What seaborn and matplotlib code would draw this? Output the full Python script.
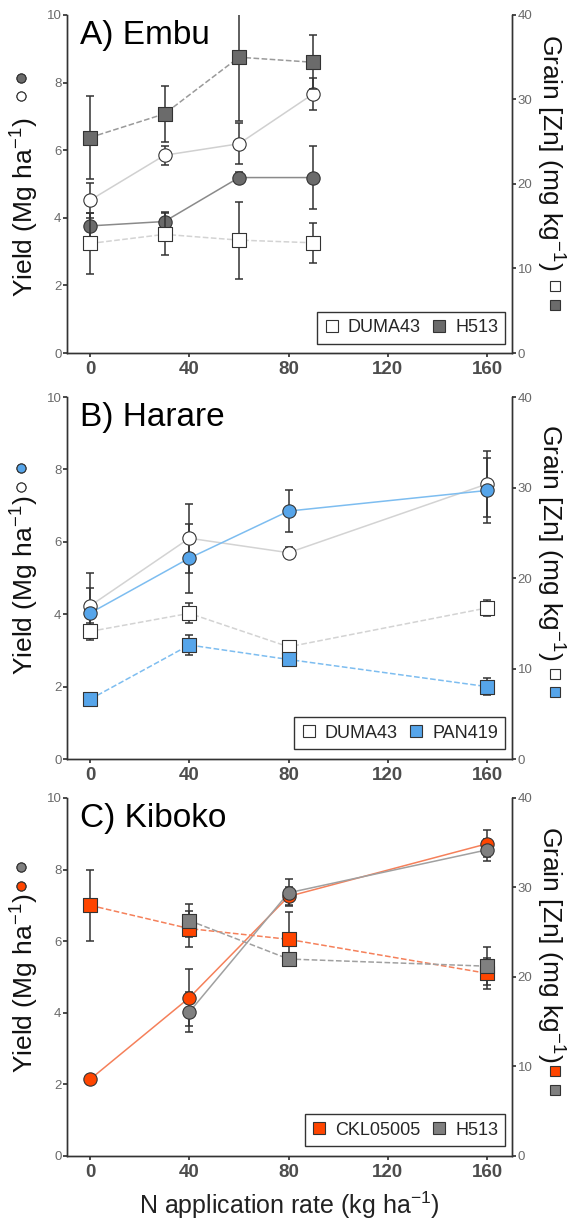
import numpy as np
import pandas as pd
import matplotlib
matplotlib.use("Agg")
from matplotlib import pyplot as plt
from matplotlib.lines import Line2D
import seaborn as sns

# Embu (Kenya)
embu_n = [0, 30, 60, 90]
embu_duma_yield = [4.52, 5.85, 6.19, 7.67]
embu_duma_yield_err = [0.52, 0.28, 0.6, 0.47]
embu_h513_yield = [3.76, 3.89, 5.19, 5.19]
embu_h513_yield_err = [0.38, 0.29, 0.15, 0.92]
embu_duma_zn = [12.96, 14.04, 13.36, 13.04]
embu_duma_zn_err = [3.64, 2.48, 4.56, 2.4]
embu_h513_zn = [25.5, 28.3, 35.0, 34.4]
embu_h513_zn_err = [4.9, 3.3, 7.6, 3.2]

# Harare (Zimbabwe)
harare_n = [0, 40, 80, 160]
harare_duma_yield = [4.23, 6.1, 5.7, 7.6]
harare_duma_yield_err = [0.9, 0.95, 0.16, 0.92]
harare_pan_yield = [4.03, 5.55, 6.85, 7.42]
harare_pan_yield_err = [0.7, 0.95, 0.58, 0.9]
harare_duma_zn = [14.1, 16.1, 12.4, 16.7]
harare_duma_zn_err = [0.9, 1.1, 0.4, 0.9]
harare_pan_zn = [6.6, 12.6, 11.0, 8.0]
harare_pan_zn_err = [0.6, 1.1, 0.2, 0.9]

# Kiboko (Kenya)
kiboko_n = [0, 40, 80, 160]
kiboko_h513_n = [40, 80, 160]
kiboko_ckl_yield = [2.14, 4.42, 7.25, 8.72]
kiboko_ckl_yield_err = [0.12, 0.8, 0.25, 0.37]
kiboko_h513_yield = [4.02, 7.35, 8.55]
kiboko_h513_yield_err = [0.57, 0.38, 0.3]
kiboko_ckl_zn = [28.0, 25.4, 24.2, 20.4]
kiboko_ckl_zn_err = [4.0, 2.0, 3.0, 1.7]
kiboko_h513_zn = [26.3, 22.0, 21.2]
kiboko_h513_zn_err = [1.8, 0.5, 2.1]

x_ticks = [0, 40, 80, 120, 160]

sns.set_theme(style="white")
plt.rcParams['font.family'] = ['Liberation Sans', 'DejaVu Sans']
plt.rcParams['mathtext.fontset'] = 'custom'
plt.rcParams['mathtext.rm'] = 'Liberation Sans'
plt.rcParams['mathtext.it'] = 'Liberation Sans:italic'
plt.rcParams['mathtext.bf'] = 'Liberation Sans:bold'

EDGE = '#333333'
TICKCOL = '#6a6a6a'


def drawSeries(ax, n, values, errors, fill, lineColor, marker, dashed):
    df = pd.DataFrame({'n': n, 'v': values})
    sns.lineplot(data=df, x='n', y='v', ax=ax, color=lineColor,
                 linestyle='--' if dashed else '-', linewidth=1.1, zorder=2)
    ax.errorbar(n, values, yerr=errors, fmt='none', ecolor=EDGE,
                elinewidth=1.1, capsize=3, capthick=1.1, zorder=3)
    sns.scatterplot(data=df, x='n', y='v', ax=ax, marker=marker, s=92,
                    color=fill, edgecolor=EDGE, linewidth=0.8, zorder=4)


def keyLegend(ax, fills, marker, anchor):
    handles = [Line2D([], [], marker=marker, linestyle='', markerfacecolor=f,
                      markeredgecolor=EDGE, markeredgewidth=0.8, markersize=6.5)
               for f in fills]
    leg = ax.legend(handles, ['', ''], loc='center', bbox_to_anchor=anchor,
                    frameon=False, fontsize=8, handlelength=0.8,
                    handletextpad=0, labelspacing=0.75, borderpad=0)
    ax.add_artist(leg)


def setupPanel(ax, ax2, title, showXLabel, yLabelPos, zLabelPos):
    ax.set_xlim(-9.3, 170)
    ax.set_ylim(0, 10)
    ax2.set_ylim(0, 40)
    ax.set_xticks(x_ticks)
    ax.set_yticks([0, 2, 4, 6, 8, 10])
    ax2.set_yticks([0, 10, 20, 30, 40])
    ax.set_xticklabels([str(t) for t in x_ticks], fontsize=13.5, fontweight='bold', color='#4d4d4d')
    ax.tick_params(axis='y', labelsize=9.5, labelcolor=TICKCOL, length=3, color=EDGE, left=True, pad=1)
    ax.tick_params(axis='x', length=3, color=EDGE, bottom=True, pad=3)
    ax2.tick_params(axis='y', labelsize=9.5, labelcolor=TICKCOL, length=3, color=EDGE, right=True, pad=1)
    for a in (ax, ax2):
        for side in ['left', 'bottom', 'right']:
            a.spines[side].set_color(EDGE)
            a.spines[side].set_linewidth(1.0)
        a.spines['top'].set_visible(False)
    ax.set_ylabel('Yield (Mg ha$^{-1}$)', fontsize=19, color='#111111')
    ax.yaxis.label.set_va('center')
    ax.yaxis.set_label_coords(-0.094, yLabelPos)
    ax2.set_ylabel('Grain [Zn] (mg kg$^{-1}$)', fontsize=19, color='#111111', rotation=270)
    ax2.yaxis.label.set_va('center')
    ax2.yaxis.set_label_coords(1.085, zLabelPos)
    ax.set_xlabel('N application rate (kg ha$^{-1}$)' if showXLabel else '',
                  fontsize=18, color='#222222', labelpad=6)
    ax.text(0.03, 0.985, title, transform=ax.transAxes, fontsize=24,
            va='top', ha='left', color='black')


fig = plt.figure(figsize=(5.71, 12.27), dpi=100)
axA = fig.add_axes([0.1173, 0.7123, 0.7793, 0.2755])
axB = fig.add_axes([0.1173, 0.3814, 0.7793, 0.2950])
axC = fig.add_axes([0.1173, 0.0579, 0.7793, 0.2918])

GREY_A = '#6b6b6b'
GREY_C = '#808080'
BLUE = '#56a5ea'
ORANGE = '#ff4500'

# Panel A - Embu
ax2A = axA.twinx()
drawSeries(axA, embu_n, embu_duma_yield, embu_duma_yield_err, 'white', '#d0d0d0', 'o', False)
drawSeries(axA, embu_n, embu_h513_yield, embu_h513_yield_err, GREY_A, '#8a8a8a', 'o', False)
drawSeries(ax2A, embu_n, embu_duma_zn, embu_duma_zn_err, 'white', '#d3d3d3', 's', True)
drawSeries(ax2A, embu_n, embu_h513_zn, embu_h513_zn_err, GREY_A, '#9a9a9a', 's', True)
setupPanel(axA, ax2A, 'A) Embu', False, 0.43, 0.595)

# Panel B - Harare
ax2B = axB.twinx()
drawSeries(axB, harare_n, harare_duma_yield, harare_duma_yield_err, 'white', '#d3d3d3', 'o', False)
drawSeries(axB, harare_n, harare_pan_yield, harare_pan_yield_err, BLUE, '#7dbdf0', 'o', False)
drawSeries(ax2B, harare_n, harare_duma_zn, harare_duma_zn_err, 'white', '#d3d3d3', 's', True)
drawSeries(ax2B, harare_n, harare_pan_zn, harare_pan_zn_err, BLUE, '#7dbdf0', 's', True)
setupPanel(axB, ax2B, 'B) Harare', False, 0.48, 0.60)

# Panel C - Kiboko
ax2C = axC.twinx()
drawSeries(axC, kiboko_n, kiboko_ckl_yield, kiboko_ckl_yield_err, ORANGE, '#f5805a', 'o', False)
drawSeries(axC, kiboko_h513_n, kiboko_h513_yield, kiboko_h513_yield_err, GREY_C, '#a0a0a0', 'o', False)
drawSeries(ax2C, kiboko_n, kiboko_ckl_zn, kiboko_ckl_zn_err, ORANGE, '#f5805a', 's', True)
drawSeries(ax2C, kiboko_h513_n, kiboko_h513_zn, kiboko_h513_zn_err, GREY_C, '#a0a0a0', 's', True)
setupPanel(axC, ax2C, 'C) Kiboko', True, 0.483, 0.59)

# keys beside the axis titles and the legend boxes
panels = [
    (axA, ax2A, [GREY_A, 'white'], ['white', GREY_A], ['DUMA43', 'H513'], 0.785, 0.167),
    (axB, ax2B, [BLUE, 'white'], ['white', BLUE], ['DUMA43', 'PAN419'], 0.775, 0.207),
    (axC, ax2C, [GREY_C, ORANGE], [ORANGE, GREY_C], ['CKL05005', 'H513'], 0.778, 0.208),
]
for ax, ax2, circFills, sqFills, names, cy, sy in panels:
    keyLegend(ax, circFills, 'o', (-0.103, cy))
    keyLegend(ax2, sqFills, 's', (1.097, sy))
    handles = [Line2D([], [], marker='s', linestyle='', markerfacecolor=f,
                      markeredgecolor=EDGE, markeredgewidth=0.8, markersize=8.5)
               for f in sqFills]
    leg = ax2.legend(handles, names, loc='lower right', ncol=2, fontsize=13,
                     frameon=True, fancybox=False, edgecolor='black',
                     handlelength=0.8, handletextpad=0.5, columnspacing=0.6,
                     borderpad=0.4, borderaxespad=0.0,
                     bbox_to_anchor=(0.985, 0.028))
    leg.get_frame().set_linewidth(1.0)

fig.savefig('out.png', dpi=100, facecolor='white')
